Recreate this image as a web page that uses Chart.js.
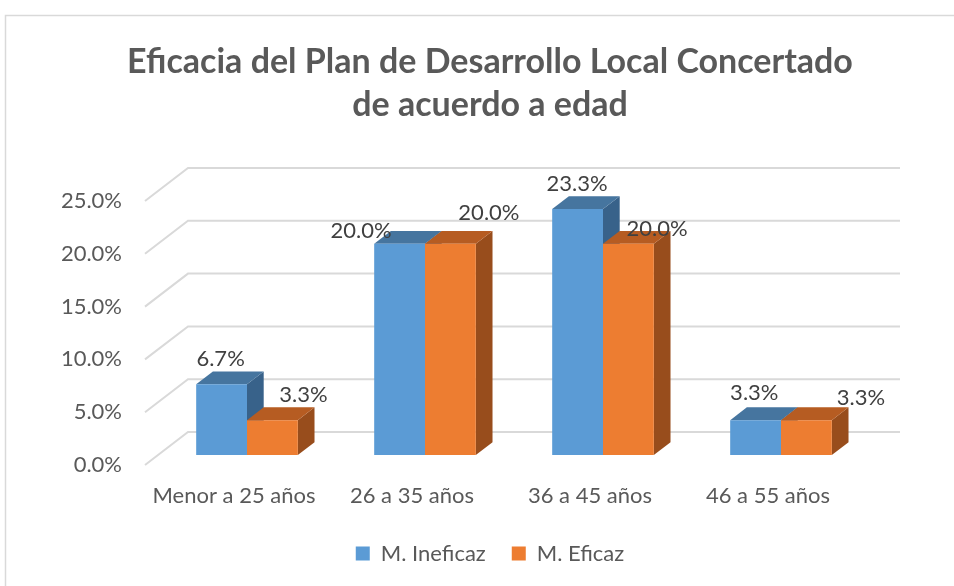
<!DOCTYPE html>
<html><head><meta charset="utf-8">
<script src="https://cdn.jsdelivr.net/npm/chart.js@4.4.1/dist/chart.umd.min.js"></script>
<style>html,body{margin:0;padding:0;background:#fff;overflow:hidden}canvas{display:block}</style>
</head><body>
<canvas id="c" width="954" height="586"></canvas>
<script>
// ---- data ----
const categories = ['Menor a 25 años', '26 a 35 años', '36 a 45 años', '46 a 55 años'];
const seriesNames = ['M. Ineficaz', 'M. Eficaz'];
const ineficaz = [6.7, 20.0, 23.3, 3.3];
const eficaz = [3.3, 20.0, 20.0, 3.3];
const yTickMin = 0, yTickMax = 25, yTickStep = 5;
const titleLines = ['Eficacia del Plan de Desarrollo Local Concertado', 'de acuerdo a edad'];

// ---- style ----
const FONT = 'Lato';
function fitSize(text, weight, target) {
  const c = document.createElement('canvas').getContext('2d');
  c.font = weight + ' 100px ' + FONT;
  return Math.round(100 * target / c.measureText(text).width * 2) / 2;
}
const titleSize = fitSize(titleLines[0], 'bold', 729);
const axisSize = fitSize(categories[0], 'normal', 162);

const colors = {
  blue: '#5b9bd5', blueTop: '#46759f', blueSide: '#38628a',
  orange: '#ed7d31', orangeTop: '#b65c22', orangeSide: '#984d1c'
};
const faceColors = [[colors.blueTop, colors.blueSide], [colors.orangeTop, colors.orangeSide]];
// label nudges (px) relative to top centre of each bar front face
const labelNudge = [
  [[-1, -25], [-38.6, -13], [-0.5, -25], [-1.3, -27]],
  [[31, -25.7], [38.5, -31], [28.7, -15], [54.5, -22.7]]
];
const FRONT = {dx: -13, dy: 10};   // floor front edge relative to bar plane
const BACK = {dx: 30, dy: -23};    // back wall relative to bar plane
const DEPTH = {dx: 16.7, dy: -12.8}; // bar depth

const excel3d = {
  id: 'excel3d',
  beforeDraw(chart) {
    const ctx = chart.ctx;
    ctx.save();
    ctx.strokeStyle = '#d9d9d9';
    ctx.lineWidth = 1.5;
    ctx.beginPath();
    ctx.moveTo(5.5, 600); ctx.lineTo(5.5, 15.5); ctx.lineTo(960, 15.5);
    ctx.stroke();
    ctx.restore();
  },
  beforeDatasetsDraw(chart) {
    const ctx = chart.ctx;
    const ys = chart.scales.y;
    const {left, right} = chart.chartArea;
    ctx.save();
    ctx.strokeStyle = '#d9d9d9';
    ctx.lineWidth = 2;
    ys.ticks.forEach(t => {
      const y = ys.getPixelForValue(t.value);
      ctx.beginPath();
      ctx.moveTo(left + FRONT.dx, y + FRONT.dy);
      ctx.lineTo(left + BACK.dx, y + BACK.dy);
      ctx.lineTo(right + BACK.dx, y + BACK.dy);
      ctx.stroke();
    });
    const n = chart.data.labels.length;
    for (let j = 0; j < n; j++) {
      chart.data.datasets.forEach((ds, i) => {
        const el = chart.getDatasetMeta(i).data[j];
        const L = el.x - el.width / 2, R = el.x + el.width / 2, T = el.y, B = el.base;
        // side
        ctx.fillStyle = faceColors[i][1];
        ctx.beginPath();
        ctx.moveTo(R, T); ctx.lineTo(R + DEPTH.dx, T + DEPTH.dy);
        ctx.lineTo(R + DEPTH.dx, B + DEPTH.dy); ctx.lineTo(R, B); ctx.closePath(); ctx.fill();
        // top
        ctx.fillStyle = faceColors[i][0];
        ctx.beginPath();
        ctx.moveTo(L, T); ctx.lineTo(L + DEPTH.dx, T + DEPTH.dy);
        ctx.lineTo(R + DEPTH.dx, T + DEPTH.dy); ctx.lineTo(R, T); ctx.closePath(); ctx.fill();
      });
    }
    ctx.restore();
  },
  afterDatasetsDraw(chart) {
    const ctx = chart.ctx;
    ctx.save();
    ctx.font = axisSize + 'px ' + FONT;
    ctx.fillStyle = '#404040';
    ctx.textAlign = 'center';
    ctx.textBaseline = 'middle';
    chart.data.datasets.forEach((ds, i) => {
      chart.getDatasetMeta(i).data.forEach((el, j) => {
        const nud = labelNudge[i][j];
        ctx.fillText(ds.data[j].toFixed(1) + '%', el.x + nud[0], el.y + nud[1]);
      });
    });
    ctx.restore();
  }
};

new Chart(document.getElementById('c'), {
  type: 'bar',
  data: {
    labels: categories,
    datasets: [
      {label: seriesNames[0], data: ineficaz, backgroundColor: colors.blue, borderWidth: 0},
      {label: seriesNames[1], data: eficaz, backgroundColor: colors.orange, borderWidth: 0}
    ]
  },
  options: {
    responsive: false,
    animation: false,
    devicePixelRatio: 1,
    datasets: {bar: {categoryPercentage: 0.571, barPercentage: 1.0}},
    layout: {padding: {left: 26, right: 0, top: 0, bottom: 11.5}},
    plugins: {
      title: {
        display: true, text: titleLines, color: '#595959',
        font: {family: FONT, size: titleSize, weight: 'bold', lineHeight: 43 / titleSize},
        padding: {top: 41, bottom: 64}
      },
      legend: {
        position: 'bottom',
        labels: {
          color: '#595959', font: {family: FONT, size: axisSize},
          boxWidth: 14, boxHeight: 14, padding: 26
        }
      },
      tooltip: {enabled: false}
    },
    scales: {
      x: {
        grid: {display: false, drawTicks: false},
        border: {display: false},
        ticks: {color: '#595959', font: {family: FONT, size: axisSize}, padding: 27.5, labelOffset: -13, maxRotation: 0},
        afterFit(s) { s.height = 61.5; }
      },
      y: {
        min: yTickMin, max: yTickMax,
        grid: {display: false, drawTicks: false},
        border: {display: false},
        ticks: {
          stepSize: yTickStep, color: '#595959', font: {family: FONT, size: axisSize},
          padding: 36, labelOffset: 10,
          callback: v => v.toFixed(1) + '%'
        },
        afterFit(s) { s.width = 132; }
      },
      yR: {
        type: 'linear', position: 'right', display: true,
        grid: {display: false, drawTicks: false}, border: {display: false},
        ticks: {display: false},
        afterFit(s) { s.width = 84; }
      }
    }
  },
  plugins: [excel3d]
});
</script>
</body></html>
